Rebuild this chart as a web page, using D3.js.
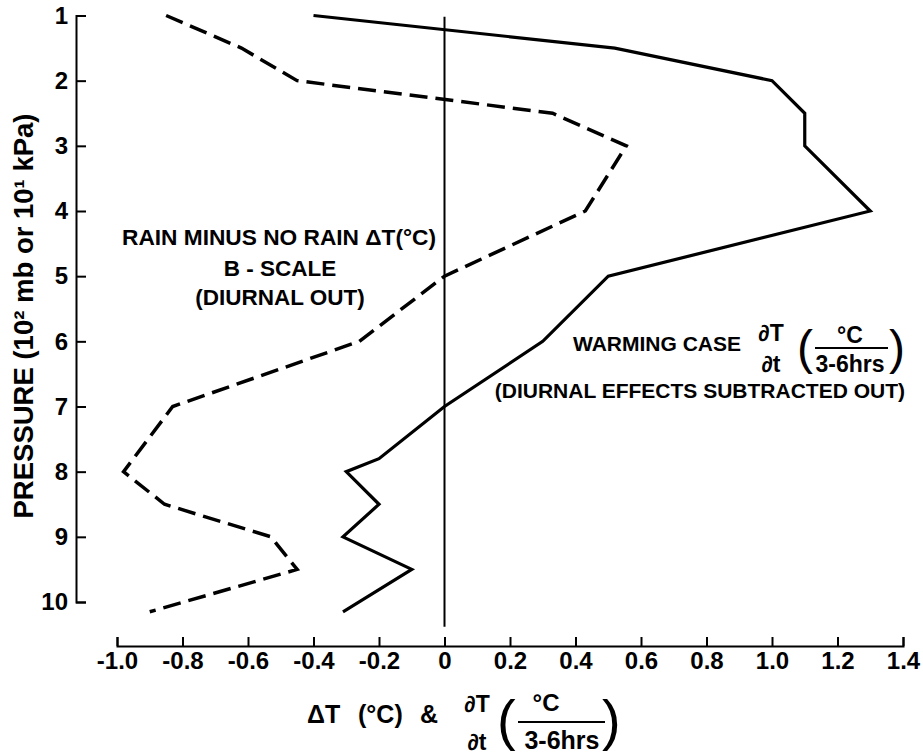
<!DOCTYPE html>
<html>
<head>
<meta charset="utf-8">
<script src="https://cdn.jsdelivr.net/npm/d3@7"></script>
<style>
body { margin: 0; background: #fff; }
text { font-family: "Liberation Sans", Arial, sans-serif; fill: #000; }
</style>
</head>
<body>
<script>

// pressure ticks (10^2 mb) and temperature ticks
var pressureTicks = [1, 2, 3, 4, 5, 6, 7, 8, 9, 10];
var tempTicks = [-1.0, -0.8, -0.6, -0.4, -0.2, 0, 0.2, 0.4, 0.6, 0.8, 1.0, 1.2, 1.4];

// rain minus no rain dT, B-scale (dashed)
var rainP  = [1, 1.5, 2, 2.5, 3, 4, 5, 6, 7, 8, 8.5, 9, 9.5, 10.15];
var rainDT = [-0.85, -0.62, -0.45, 0.33, 0.555, 0.43, 0.0, -0.26, -0.83, -0.98, -0.855, -0.53, -0.45, -0.9];

// warming case dT/dt (solid)
var warmP  = [1, 1.5, 2, 2.5, 3, 4, 5, 6, 7, 7.8, 8, 8.5, 9, 9.5, 10.15];
var warmDT = [-0.4, 0.52, 1.0, 1.1, 1.1, 1.3, 0.5, 0.3, 0.0, -0.2, -0.3, -0.2, -0.31, -0.1, -0.31];

var width = 923, height = 755;

var svg = d3.select("body").append("svg").attr("width", width).attr("height", height)

var x = d3.scaleLinear().domain([-1.0, 1.4]).range([117, 903])
var y = d3.scaleLinear().domain([1, 10]).range([15.5, 602])

// y axis, ticks pointing into the plot, labels on the left
var yAxis = svg.append("g")
  .attr("transform", "translate(76,0)")
  .call(d3.axisLeft(y).tickValues(pressureTicks).tickSizeInner(-10).tickSizeOuter(-10).tickPadding(8).tickFormat(d3.format("d")))
yAxis.selectAll("path, line").attr("stroke", "#000").attr("stroke-width", 2)
yAxis.selectAll("text").attr("font-size", 24).attr("font-weight", "bold")
  .attr("font-family", "'Liberation Sans', Arial, sans-serif")

// x axis, ticks pointing up
var xAxis = svg.append("g")
  .attr("transform", "translate(0,646)")
  .call(d3.axisBottom(x).tickValues(tempTicks).tickSizeInner(-9).tickSizeOuter(-9).tickPadding(6)
    .tickFormat(function(d) { return d === 0 ? "0" : (d < 0 ? "-" : "") + Math.abs(d).toFixed(1) }))
xAxis.selectAll("path, line").attr("stroke", "#000").attr("stroke-width", 2)
xAxis.selectAll("text").attr("font-size", 24).attr("font-weight", "bold")
  .attr("font-family", "'Liberation Sans', Arial, sans-serif")

// zero line
svg.append("line")
  .attr("x1", x(0)).attr("x2", x(0))
  .attr("y1", y(1.02)).attr("y2", y(10.38))
  .attr("stroke", "#000").attr("stroke-width", 2)

var line = d3.line()
  .x(function(d) { return x(d[1]) })
  .y(function(d) { return y(d[0]) })

svg.append("path")
  .datum(d3.zip(rainP, rainDT))
  .attr("d", line)
  .attr("fill", "none").attr("stroke", "#000").attr("stroke-width", 3.5)
  .attr("stroke-dasharray", "18,8").attr("stroke-linejoin", "miter")

svg.append("path")
  .datum(d3.zip(warmP, warmDT))
  .attr("d", line)
  .attr("fill", "none").attr("stroke", "#000").attr("stroke-width", 3.2)
  .attr("stroke-linejoin", "miter")

// y axis title
svg.append("text")
  .attr("transform", "translate(33,316) rotate(-90)")
  .attr("text-anchor", "middle")
  .attr("font-size", 27.5).attr("font-weight", "bold")
  .text("PRESSURE (10² mb or 10¹ kPa)")

// left annotation
var rain = svg.append("g").attr("font-size", 22.5).attr("font-weight", "bold")
rain.append("text").attr("x", 122).attr("y", 245)
  .attr("textLength", 314).attr("lengthAdjust", "spacingAndGlyphs")
  .text("RAIN MINUS NO RAIN ΔT(°C)")
rain.append("text").attr("x", 280).attr("y", 276).attr("text-anchor", "middle").text("B - SCALE")
rain.append("text").attr("x", 280).attr("y", 305).attr("text-anchor", "middle").text("(DIURNAL OUT)")

// right annotation
var warm = svg.append("g").attr("font-weight", "bold")
warm.append("text").attr("x", 573).attr("y", 351).attr("font-size", 21).text("WARMING CASE")
warm.append("text").attr("x", 771).attr("y", 341).attr("font-size", 23).attr("text-anchor", "middle").text("∂T")
warm.append("text").attr("x", 771).attr("y", 372).attr("font-size", 23).attr("text-anchor", "middle").text("∂t")
warm.append("text").attr("x", 797).attr("y", 364).attr("font-size", 48).attr("font-weight", "normal").text("(")
warm.append("text").attr("x", 850).attr("y", 343).attr("font-size", 23).attr("text-anchor", "middle").text("°C")
warm.append("line").attr("x1", 815).attr("x2", 888).attr("y1", 348).attr("y2", 348).attr("stroke", "#000").attr("stroke-width", 2)
warm.append("text").attr("x", 850).attr("y", 372).attr("font-size", 23).attr("text-anchor", "middle").text("3-6hrs")
warm.append("text").attr("x", 889).attr("y", 364).attr("font-size", 48).attr("font-weight", "normal").text(")")
warm.append("text").attr("x", 905).attr("y", 398).attr("font-size", 21).attr("text-anchor", "end")
  .text("(DIURNAL EFFECTS SUBTRACTED OUT)")

// x axis title
var xt = svg.append("g").attr("font-weight", "bold")
xt.append("text").attr("x", 307).attr("y", 723).attr("font-size", 25).text("ΔT")
xt.append("text").attr("x", 358).attr("y", 723).attr("font-size", 25).text("(°C)")
xt.append("text").attr("x", 420).attr("y", 723).attr("font-size", 25).text("&")
xt.append("text").attr("x", 477).attr("y", 712).attr("font-size", 23).attr("text-anchor", "middle").text("∂T")
xt.append("text").attr("x", 477).attr("y", 750).attr("font-size", 23).attr("text-anchor", "middle").text("∂t")
xt.append("text").attr("x", 497).attr("y", 739).attr("font-size", 56).attr("font-weight", "normal").text("(")
xt.append("text").attr("x", 546).attr("y", 711).attr("font-size", 24).attr("text-anchor", "middle").text("°C")
xt.append("line").attr("x1", 518).attr("x2", 605).attr("y1", 722).attr("y2", 722).attr("stroke", "#000").attr("stroke-width", 2)
xt.append("text").attr("x", 562).attr("y", 749).attr("font-size", 25).attr("text-anchor", "middle").text("3-6hrs")
xt.append("text").attr("x", 602).attr("y", 739).attr("font-size", 56).attr("font-weight", "normal").text(")")

</script>
</body>
</html>
